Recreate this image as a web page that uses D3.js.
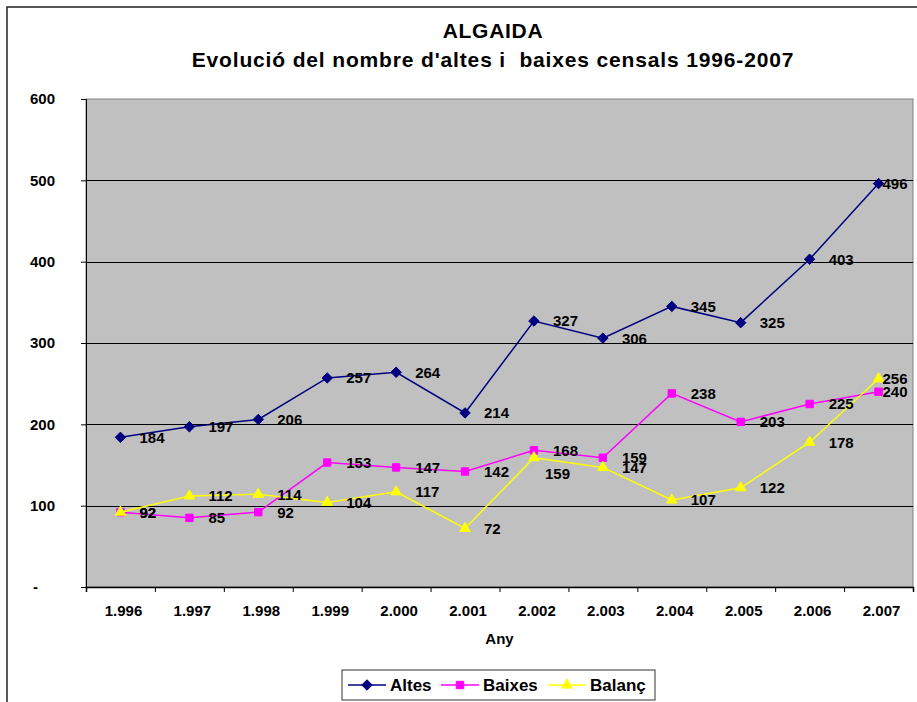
<!DOCTYPE html>
<html>
<head>
<meta charset="utf-8">
<script src="https://cdn.jsdelivr.net/npm/d3@7"></script>
<style>
  body { margin: 0; background: #fff; }
  svg text { font-family: "Liberation Sans", Arial, sans-serif; font-weight: bold; fill: #000; }
</style>
</head>
<body>
<svg id="chart" width="917" height="702"></svg>
<script>
const years = ["1.996", "1.997", "1.998", "1.999", "2.000", "2.001", "2.002", "2.003", "2.004", "2.005", "2.006", "2.007"];
const altes = [184, 197, 206, 257, 264, 214, 327, 306, 345, 325, 403, 496];
const baixes = [92, 85, 92, 153, 147, 142, 168, 159, 238, 203, 225, 240];
const balanc = [92, 112, 114, 104, 117, 72, 159, 147, 107, 122, 178, 256];
const yTicks = [0, 100, 200, 300, 400, 500, 600];
const seriesNames = ["Altes", "Baixes", "Balanç"];

const series = [
  { name: seriesNames[0], values: altes, color: "#000080", symbol: d3.symbolDiamond2, size: 70 },
  { name: seriesNames[1], values: baixes, color: "#FF00FF", symbol: d3.symbolSquare2, size: 70 },
  { name: seriesNames[2], values: balanc, color: "#FFFF00", symbol: d3.symbolTriangle2, size: 80 },
];

let svg = d3.select("#chart");
let plotLeft = 86, plotRight = 913, plotTop = 99, plotBottom = 587;

// outer chart frame
svg.append("rect")
  .attr("x", 7).attr("y", 7)
  .attr("width", 920).attr("height", 710)
  .attr("fill", "none").attr("stroke", "#222").attr("stroke-width", 1.5);

// titles
svg.append("text")
  .attr("x", 493).attr("y", 38)
  .attr("text-anchor", "middle")
  .attr("font-size", "21px")
  .attr("letter-spacing", "0.7px")
  .text("ALGAIDA");
svg.append("text")
  .attr("x", 493).attr("y", 67)
  .attr("text-anchor", "middle")
  .attr("font-size", "21px")
  .attr("letter-spacing", "0.85px")
  .style("white-space", "pre")
  .text("Evolució del nombre d'altes i  baixes censals 1996-2007");

let x = d3.scaleBand().domain(years).range([plotLeft, plotRight]);
let xEdge = d3.scaleLinear().domain([0, years.length]).range([plotLeft, plotRight]);
let y = d3.scaleLinear().domain([0, 600]).range([plotBottom, plotTop]);

// plot area
svg.append("rect")
  .attr("x", plotLeft).attr("y", plotTop)
  .attr("width", plotRight - plotLeft).attr("height", plotBottom - plotTop)
  .attr("fill", "#C0C0C0").attr("stroke", "#808080").attr("stroke-width", 1);

// gridlines
svg.append("g")
  .selectAll("line")
  .data(yTicks.filter((t) => t > 0 && t < 600))
  .enter()
  .append("line")
  .attr("x1", plotLeft).attr("x2", plotRight)
  .attr("y1", (d) => Math.round(y(d)) + 0.5)
  .attr("y2", (d) => Math.round(y(d)) + 0.5)
  .attr("stroke", "#000").attr("stroke-width", 1);

// Y axis
let yAxis = svg.append("g")
  .attr("transform", "translate(" + plotLeft + ",0)")
  .call(d3.axisLeft(y).tickValues(yTicks).tickSize(5).tickPadding(26)
    .tickFormat((d) => (d === 0 ? "-" : d)));
yAxis.select(".domain").attr("stroke", "#000");
yAxis.selectAll("text").attr("font-size", "15px").attr("font-family", null);
yAxis.selectAll(".tick")
  .filter((d) => d === 0)
  .select("text")
  .attr("x", -48);

// X axis: labels centred in bands, ticks at band edges
let xAxis = svg.append("g")
  .attr("transform", "translate(0," + plotBottom + ")")
  .call(d3.axisBottom(x).tickSize(0).tickPadding(18));
xAxis.select(".domain").remove();
xAxis.selectAll("text").attr("font-size", "15px").attr("font-family", null).attr("dx", 3);

let xTicks = svg.append("g")
  .attr("transform", "translate(0," + plotBottom + ")")
  .call(d3.axisBottom(xEdge).tickValues(d3.range(years.length + 1))
    .tickSize(5).tickFormat(""));
xTicks.select(".domain").attr("stroke", "#000").attr("stroke-width", 1.5);

svg.append("text")
  .attr("x", (plotLeft + plotRight) / 2).attr("y", 644)
  .attr("text-anchor", "middle")
  .attr("font-size", "15px")
  .text("Any");

// series
let line = d3.line()
  .x((d, i) => x(years[i]) + x.bandwidth() / 2)
  .y((d) => y(d));

series.forEach(function (s) {
  svg.append("path")
    .datum(s.values)
    .attr("d", line)
    .attr("fill", "none")
    .attr("stroke", s.color)
    .attr("stroke-width", 1.5);

  svg.append("g")
    .selectAll("path")
    .data(s.values)
    .enter()
    .append("path")
    .attr("d", d3.symbol().type(s.symbol).size(s.size))
    .attr("transform", (d, i) => "translate(" + (x(years[i]) + x.bandwidth() / 2) + "," + y(d) + ")")
    .attr("fill", s.color)
    .attr("stroke", s.color);
});

// data labels (the 2002 Balanç label sits below its point, as in the original)
series.forEach(function (s, si) {
  svg.append("g")
    .selectAll("text")
    .data(s.values)
    .enter()
    .append("text")
    .attr("x", function (d, i) {
      let cx = x(years[i]) + x.bandwidth() / 2;
      if (i === years.length - 1) return cx + 4;
      if (si === 2 && i === 6) return cx + 11;
      return cx + 19;
    })
    .attr("y", (d, i) => y(d) + (si === 2 && i === 6 ? 16 : 0))
    .attr("dy", "0.36em")
    .attr("font-size", "15px")
    .text((d) => d);
});

// legend
let legend = svg.append("g");
legend.append("rect")
  .attr("x", 342).attr("y", 670)
  .attr("width", 313).attr("height", 30)
  .attr("fill", "#fff").attr("stroke", "#333").attr("stroke-width", 1);

let legendX = [348, 441, 548];
series.forEach(function (s, i) {
  let lx = legendX[i];
  legend.append("line")
    .attr("x1", lx).attr("x2", lx + 38)
    .attr("y1", 685).attr("y2", 685)
    .attr("stroke", s.color).attr("stroke-width", 1.5);
  legend.append("path")
    .attr("d", d3.symbol().type(s.symbol).size(s.size))
    .attr("transform", "translate(" + (lx + 19) + ",685)")
    .attr("fill", s.color).attr("stroke", s.color);
  legend.append("text")
    .attr("x", lx + 42).attr("y", 685)
    .attr("dy", "0.36em")
    .attr("font-size", "17px")
    .text(s.name);
});
</script>
</body>
</html>
